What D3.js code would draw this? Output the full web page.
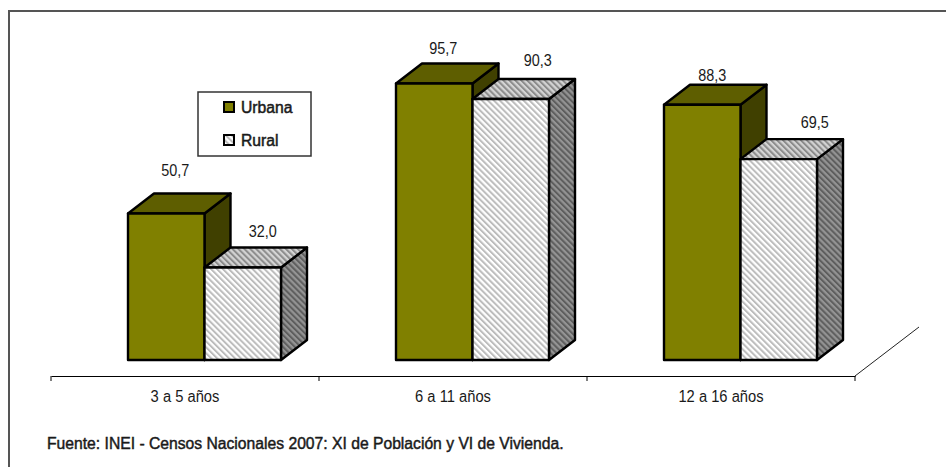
<!DOCTYPE html>
<html>
<head>
<meta charset="utf-8">
<script src="https://cdn.jsdelivr.net/npm/d3@7"></script>
<style>
  body { margin: 0; background: #fff; }
  text { font-family: "Liberation Sans", Arial, sans-serif; fill: #1a1a1a; }
</style>
</head>
<body>
<script>
'use strict';

const ageGroups = ["3 a 5 años", "6 a 11 años", "12 a 16 años"];
const seriesNames = ["Urbana", "Rural"];
const urbana = [50.7, 95.7, 88.3];
const rural = [32.0, 90.3, 69.5];
const fuente = "Fuente: INEI - Censos Nacionales 2007: XI de Población y VI de Vivienda.";

const svg = d3.select('body').append('svg')
  .attr('width', 946)
  .attr('height', 467)
  .style('display', 'block');

// hatch patterns, one per face of the rural bars
const defs = svg.append('defs');
function addHatch(id, bg, fg) {
  const p = defs.append('pattern')
    .attr('id', id)
    .attr('width', 4.2)
    .attr('height', 4.2)
    .attr('patternUnits', 'userSpaceOnUse')
    .attr('patternTransform', 'rotate(-45)');
  p.append('rect').attr('width', 4.2).attr('height', 4.2).attr('fill', bg);
  p.append('rect').attr('width', 2).attr('height', 4.2).attr('fill', fg);
}
addHatch('hatchFront', '#ffffff', '#bcbcbc');
addHatch('hatchTop', '#d4d4d4', '#8c8c8c');
addHatch('hatchSide', '#949494', '#5e5e5e');

// the frame only has a top and a left side
svg.append('path')
  .attr('d', 'M9,467V11H946')
  .attr('fill', 'none')
  .attr('stroke', '#555')
  .attr('stroke-width', 2);

// squeeze a text a little, the original type is narrower than Liberation
function squeeze(sel, k) {
  sel.each(function() {
    d3.select(this)
      .attr('textLength', this.getComputedTextLength() * k)
      .attr('lengthAdjust', 'spacingAndGlyphs');
  });
}

// scales
const x = d3.scaleBand().domain(ageGroups).range([51, 855]);
const y = d3.scaleLinear().domain([0, 100]).range([360, 71]);
const barW = 76.5;
const dx = 26, dy = -20; // 3d depth of a bar

// floor: axis line with ticks, plus the diagonal at the end
const axisY = 376;
const axis = svg.append('g')
  .attr('transform', `translate(0,${axisY})`)
  .call(d3.axisBottom(x).tickSize(0).tickPadding(15));
axis.select('.domain').attr('stroke', '#000').attr('stroke-width', 1.2);
axis.selectAll('text')
  .style('font-size', '16px')
  .attr('font-family', null)
  .call(squeeze, 0.92);

const tickXs = ageGroups.map(d => x(d)).concat([x.range()[1]]);
svg.selectAll('.tk').data(tickXs).enter().append('line')
  .attr('x1', d => d).attr('x2', d => d)
  .attr('y1', axisY).attr('y2', axisY + 5)
  .attr('stroke', '#000');
svg.append('line')
  .attr('x1', x.range()[1]).attr('y1', axisY)
  .attr('x2', x.range()[1] + 64).attr('y2', axisY - 49)
  .attr('stroke', '#222');

// draw one 3d bar: side, top, then front
function bar3d(left, v, front, top, side) {
  const y0 = y(0), y1 = y(v), r = left + barW;
  const g = svg.append('g')
    .attr('stroke', '#000')
    .attr('stroke-width', 2.4)
    .attr('stroke-linejoin', 'round');
  g.append('path').attr('fill', side)
    .attr('d', d3.line()([[r, y1], [r + dx, y1 + dy], [r + dx, y0 + dy], [r, y0]]) + 'Z');
  g.append('path').attr('fill', top)
    .attr('d', d3.line()([[left, y1], [left + dx, y1 + dy], [r + dx, y1 + dy], [r, y1]]) + 'Z');
  g.append('rect').attr('fill', front)
    .attr('x', left).attr('y', y1)
    .attr('width', barW).attr('height', y0 - y1);
}

// the value labels were placed by hand in the original, so nudge each one
const nudgeX = [[9, 20], [9, 27], [10, 36]];
const nudgeY = [[-37.5, -31], [-29, -33], [-24, -31]];

ageGroups.forEach((d, i) => {
  const left = x(d) + 77;
  bar3d(left, urbana[i], '#808000', '#5e5e00', '#404000');
  bar3d(left + barW, rural[i], 'url(#hatchFront)', 'url(#hatchTop)', 'url(#hatchSide)');

  [urbana[i], rural[i]].forEach((v, j) => {
    svg.append('text')
      .attr('x', left + barW * j + barW / 2 + nudgeX[i][j])
      .attr('y', y(v) + nudgeY[i][j])
      .attr('text-anchor', 'middle')
      .style('font-size', '16px')
      .text(v.toFixed(1).replace('.', ','))
      .call(squeeze, 0.9);
  });
});

// legend
svg.append('rect')
  .attr('x', 198).attr('y', 92)
  .attr('width', 113).attr('height', 64)
  .attr('fill', '#fff')
  .attr('stroke', '#333')
  .attr('stroke-width', 1.5);
const legendFills = ['#808000', 'url(#hatchFront)'];
seriesNames.forEach((name, i) => {
  const ly = 107 + i * 33;
  svg.append('rect')
    .attr('x', 224).attr('y', ly - 5)
    .attr('width', 10).attr('height', 10)
    .attr('fill', legendFills[i])
    .attr('stroke', '#000')
    .attr('stroke-width', 2);
  svg.append('text')
    .attr('x', 241).attr('y', ly + 6)
    .style('font-size', '16px')
    .style('stroke', '#1a1a1a')
    .style('stroke-width', 0.5)
    .text(name)
    .call(squeeze, 0.98);
});

// source note
svg.append('text')
  .attr('x', 47).attr('y', 449)
  .style('font-size', '16px')
  .style('stroke', '#1a1a1a')
  .style('stroke-width', 0.45)
  .text(fuente)
  .call(squeeze, 0.98);
</script>
</body>
</html>
